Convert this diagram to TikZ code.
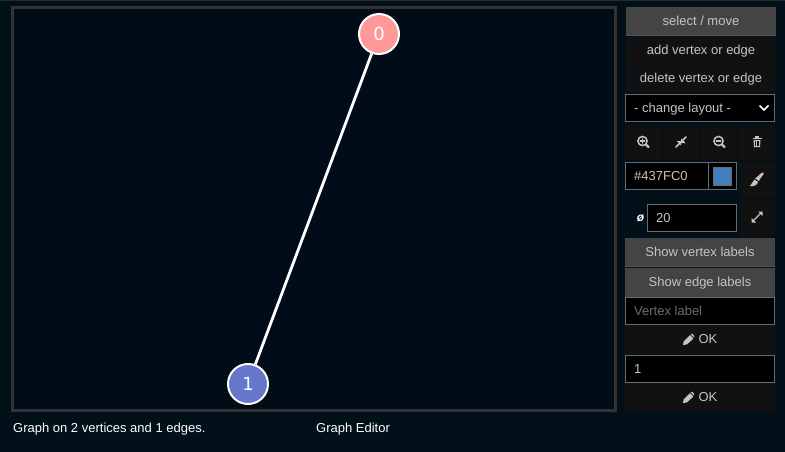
\documentclass[tikz,border=0pt]{standalone}
\usepackage{fontspec}
\setmainfont{Liberation Sans}
\newfontfamily\vertexfont{DejaVu Sans}
\definecolor{pagebg}{HTML}{02101A}
\definecolor{canvasbg}{HTML}{000D18}
\definecolor{framec}{HTML}{333333}
\definecolor{activebtn}{HTML}{444444}
\definecolor{darkbtn}{HTML}{111111}
\definecolor{inputborder}{HTML}{666C70}
\definecolor{btntext}{HTML}{C4C4C4}
\tikzset{
 x=1pt,y=-1pt,
 fs/.style={font=\fontsize{13}{15}\selectfont},
 label text/.style={fs,text=btntext,inner sep=0pt},
 plain text/.style={fs,text=white,inner sep=0pt,anchor=base west},
 vertex/.style={circle,draw=white,line width=2pt,minimum size=40pt,inner sep=0pt,text=white,font=\vertexfont\fontsize{18}{20}\selectfont},
 edge/.style={draw=white,line width=2.8pt},
 icon/.style={draw=#1,line width=1.5pt,line cap=round},
 icon/.default=btntext
}
\newcommand{\btn}[7]{% name,x0,y0,x1,y1,fill,text
 \path[fill=#6] (#2,#3) rectangle (#4,#5);
 \node[label text] (#1) at ({(#2+#4)/2},{(#3+#5)/2+1}) {\strut #7};}
\newcommand{\inp}[6]{% name,x0,y0,x1,y1,text
 \path[fill=black,draw=inputborder,line width=1pt] (#2,#3) rectangle (#4,#5);
 \node[label text,anchor=west] (#1) at ({#2+8.5},{(#3+#5)/2+1}) {\strut #6};}
\newcommand{\pencil}[2]{% x,y of center
 \begin{scope}[shift={(#1,#2)}]
 \fill[btntext] (-5.6,5.6) -- (-4.8,1.8) -- (1.4,-4.4) -- (4.9,-0.9) -- (-1.6,4.9) -- cycle;
 \fill[btntext] (2.2,-5.2) -- (3.6,-5.8) -- (5.8,-3.6) -- (5.4,-1.9) -- cycle;
 \end{scope}}
\begin{document}
\begin{tikzpicture}
\useasboundingbox (0,0) rectangle (785,452);
\fill[pagebg] (0,0) rectangle (785,452);
\fill[framec!70!pagebg] (0,0) rectangle (785,1);
% canvas
\path[fill=canvasbg,draw=framec,line width=3pt] (12.5,7.5) rectangle (615.5,410.5);
\node[vertex,fill={rgb,255:red,255;green,153;blue,153}] (v0) at (379,34) {0};
\node[vertex,fill={rgb,255:red,102;green,119;blue,204}] (v1) at (248,384) {1};
\draw[edge] (v0) -- (v1);
\node[plain text] (caption) at (13,432) {Graph on 2 vertices and 1 edges.};
\node[plain text] (title) at (316,432) {Graph Editor};
% buttons
\btn{select}{626}{7}{776}{36}{activebtn}{select / move}
\draw[inputborder!80!black,line width=.7pt] (626,35.6) -- (776,35.6);
\btn{add}{626}{37}{776}{64}{darkbtn}{add vertex or edge}
\btn{delete}{626}{65}{776}{93}{darkbtn}{delete vertex or edge}
\path[fill=black,draw=inputborder,line width=1pt] (625.5,94.5) rectangle (774.5,121.5);
\node[label text,anchor=west] (layout) at (634,109) {\strut - change layout -};
\draw[white,line width=1.6pt] (759.5,105.5) -- (764,110) -- (768.5,105.5);
% zoom row
\fill[darkbtn] (625,125) rectangle (661,160);
\fill[darkbtn] (663,125) rectangle (699,160);
\fill[darkbtn] (701,125) rectangle (737,160);
\fill[darkbtn] (739,125) rectangle (775,160);
\draw[icon,line width=1.5pt] (642.5,141) circle (4.6);
\draw[icon,line width=2.2pt] (646,144.6) -- (648.5,147);
\draw[icon,line width=1.2pt] (640.3,141) -- (644.7,141) (642.5,138.8) -- (642.5,143.2);
\draw[icon,line width=1.5pt] (718.5,141) circle (4.6);
\draw[icon,line width=2.2pt] (722,144.6) -- (724.5,147);
\draw[icon,line width=1.2pt] (716.3,141) -- (720.7,141);
% compress icon
\draw[icon,line width=1.6pt] (676,147) -- (679.5,143.5) (686,137) -- (682.5,140.5);
\fill[btntext] (681,145.5) -- (681,141) -- (676.5,141) -- cycle;
\fill[btntext] (681,138.5) -- (681,143) -- (685.5,143) -- cycle;
% trash icon
\fill[btntext] (752.5,137.5) rectangle (761.5,139);
\fill[btntext] (755,136) rectangle (759,138);
\fill[btntext] (753.5,139.8) -- (760.5,139.8) -- (760,147) -- (754,147) -- cycle;
\draw[darkbtn,line width=.6pt] (755.6,141) -- (755.6,146) (757,141) -- (757,146) (758.4,141) -- (758.4,146);
% colour
\inp{colour}{625.5}{162.5}{736.5}{189.5}{\#437FC0}
\draw[inputborder,line width=1pt] (708.5,162.5) -- (708.5,189.5);
\path[fill={rgb,255:red,67;green,127;blue,192},draw=inputborder,line width=.6pt] (713.3,167.3) rectangle (731.7,185);
\fill[darkbtn] (739,162) rectangle (775,198);
\begin{scope}[shift={(757,179)}]
\fill[btntext] (-7.5,7) .. controls (-5,6) and (-5,2) .. (-2.5,0.5) -- (1.2,3) .. controls (0,6.5) and (-4,8) .. (-7.5,7) -- cycle;
\fill[btntext] (-1.8,-0.5) -- (5,-6.5) .. controls (6.5,-7.5) and (7.5,-6) .. (6.5,-5) -- (1.8,2) -- cycle;
\end{scope}
% diameter
\node[font=\fontsize{12}{14}\bfseries\itshape\selectfont,text=white,inner sep=0pt] (dia) at (640.5,218) {ø};
\inp{diam}{647.5}{204.5}{736.5}{231.5}{20}
\fill[darkbtn] (739,200) rectangle (775,236);
\draw[icon,line width=1.3pt] (753.5,220.5) -- (760.5,213.5);
\fill[btntext] (751.5,218) -- (751.5,222.5) -- (756,222.5) -- cycle;
\fill[btntext] (758,211.5) -- (762.5,211.5) -- (762.5,216) -- cycle;
% toggles
\btn{vlabels}{625}{238}{775}{267}{activebtn}{Show vertex labels}
\draw[inputborder!80!black,line width=.7pt] (625,266.8) -- (775,266.8);
\btn{elabels}{625}{268}{775}{296.5}{activebtn}{Show edge labels}
\inp{vlabel}{625.5}{297.5}{774.5}{324.5}{\textcolor{btntext!55!black}{Vertex label}}
\btn{okone}{625}{325}{775}{354}{darkbtn}{\hspace*{16pt}OK}
\pencil{688.5}{339.5}
\inp{elabel}{625.5}{355.5}{774.5}{382.5}{1}
\btn{oktwo}{625}{383}{775}{412}{darkbtn}{\hspace*{16pt}OK}
\pencil{688.5}{397.5}
\end{tikzpicture}
\end{document}
